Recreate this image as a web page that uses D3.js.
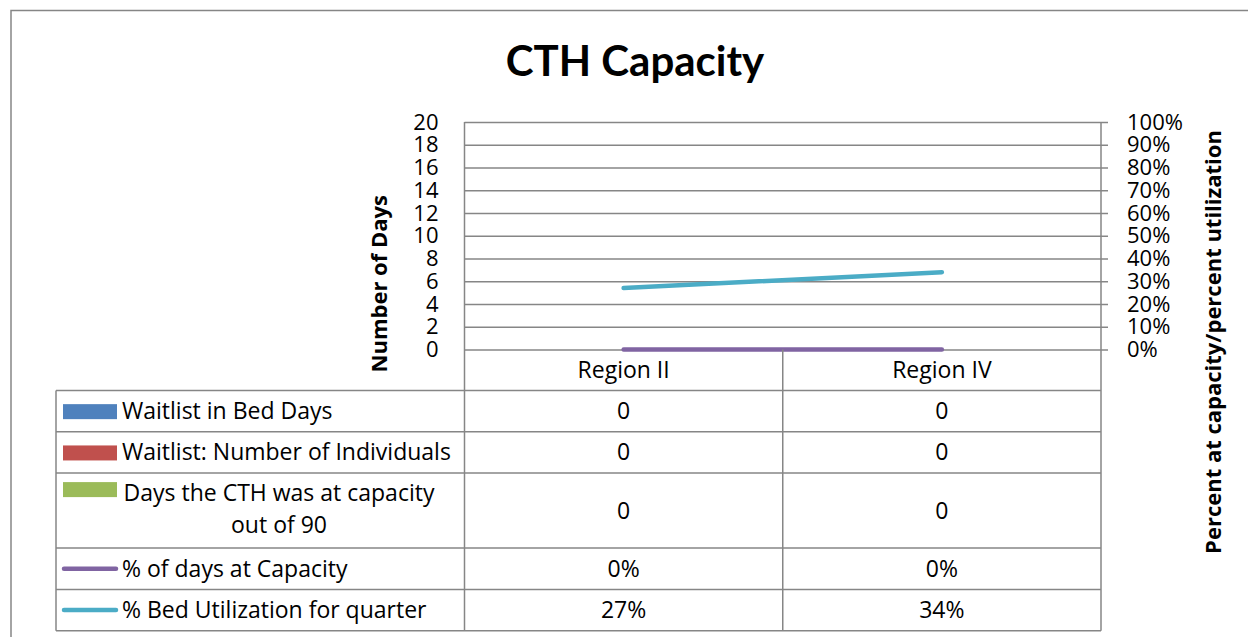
<!DOCTYPE html>
<html>
<head>
<meta charset="utf-8">
<script src="https://cdn.jsdelivr.net/npm/d3@7"></script>
<style>
  html, body { margin: 0; padding: 0; background: #fff; }
  svg { display: block; font-family: 'Open Sans', Lato, sans-serif; }
</style>
</head>
<body>
<div id="chart"></div>
<script>
const categories = ['Region II', 'Region IV']
const waitlistBedDays = [0, 0]
const waitlistIndividuals = [0, 0]
const daysAtCapacity = [0, 0]
const pctDaysAtCapacity = [0, 0]
const pctBedUtilization = [0.27, 0.34]
const leftTicks = [0, 2, 4, 6, 8, 10, 12, 14, 16, 18, 20]
const rightTicks = [0, 0.1, 0.2, 0.3, 0.4, 0.5, 0.6, 0.7, 0.8, 0.9, 1]

const series = [
  { name: ['Waitlist in Bed Days'], values: waitlistBedDays, kind: 'bar', color: '#4F81BD', fmt: d3.format('d') },
  { name: ['Waitlist: Number of Individuals'], values: waitlistIndividuals, kind: 'bar', color: '#C0504D', fmt: d3.format('d') },
  { name: ['Days the CTH was at capacity', 'out of 90'], values: daysAtCapacity, kind: 'bar', color: '#9BBB59', fmt: d3.format('d') },
  { name: ['% of days at Capacity'], values: pctDaysAtCapacity, kind: 'line', color: '#8064A2', fmt: d3.format('.0%') },
  { name: ['% Bed Utilization for quarter'], values: pctBedUtilization, kind: 'line', color: '#4BACC6', fmt: d3.format('.0%') }
]

const W = 1248, H = 637
const grid = '#868686'
const fs = 23
const tickFs = 22
const plot = { left: 464.5, right: 1101, top: 122, bottom: 349.5 }
const tableLeft = 56
const headerH = 41
const rowH1 = 41.3, rowH2 = 75

const svg = d3.select('#chart').append('svg')
  .attr('width', W).attr('height', H)

// outer chart border (top and left visible)
svg.append('path')
  .attr('d', `M11,${H} L11,10.5 L${W},10.5`)
  .attr('fill', 'none').attr('stroke', grid).attr('stroke-width', 1.5)

svg.append('text')
  .attr('x', 635).attr('y', 76)
  .attr('text-anchor', 'middle')
  .attr('font-family', 'Lato')
  .attr('font-weight', 'bold').attr('font-size', 42)
  .text('CTH Capacity')

const x = d3.scaleBand().domain(categories).range([plot.left, plot.right])
const yL = d3.scaleLinear().domain([0, 20]).range([plot.bottom, plot.top])
const yR = d3.scaleLinear().domain([0, 1]).range([plot.bottom, plot.top])

// gridlines
svg.append('g')
  .attr('transform', `translate(${plot.left},0)`)
  .call(d3.axisLeft(yL).tickValues(leftTicks).tickSize(-(plot.right - plot.left)).tickFormat(''))
  .call(ax => ax.select('.domain').remove())
  .call(ax => ax.selectAll('line').attr('stroke', grid).attr('stroke-width', 1.5))

// left tick labels
svg.append('g')
  .attr('transform', `translate(${plot.left},0)`)
  .call(d3.axisLeft(yL).tickValues(leftTicks).tickSize(0).tickPadding(26))
  .call(ax => ax.select('.domain').remove())
  .call(ax => ax.selectAll('text').attr('font-size', tickFs).attr('font-family', 'Open Sans').attr('fill', '#000'))

// right axis with outer ticks
svg.append('g')
  .attr('transform', `translate(${plot.right},0)`)
  .call(d3.axisRight(yR).tickValues(rightTicks).tickSize(7).tickPadding(19).tickFormat(d3.format('.0%')))
  .call(ax => ax.select('.domain').remove())
  .call(ax => ax.selectAll('line').attr('stroke', grid).attr('stroke-width', 1.5))
  .call(ax => ax.selectAll('text').attr('font-size', tickFs).attr('font-family', 'Open Sans').attr('fill', '#000'))

// axis titles
svg.append('text')
  .attr('transform', `translate(387,${(plot.top + plot.bottom) / 2 + 48}) rotate(-90)`)
  .attr('text-anchor', 'middle')
  .attr('font-weight', 'bold').attr('font-size', 22)
  .text('Number of Days')

svg.append('text')
  .attr('transform', `translate(1221,342) rotate(-90)`)
  .attr('text-anchor', 'middle')
  .attr('font-weight', 'bold').attr('font-size', 22)
  .text('Percent at capacity/percent utilization')

// bars (zero-valued)
const barSeries = series.filter(s => s.kind === 'bar')
const inner = d3.scaleBand().domain(d3.range(barSeries.length)).range([0, x.bandwidth()]).paddingInner(0).paddingOuter(1.2)
barSeries.forEach((s, si) => {
  svg.append('g').selectAll('rect')
    .data(s.values)
    .join('rect')
    .attr('x', (d, i) => x(categories[i]) + inner(si))
    .attr('width', inner.bandwidth())
    .attr('y', d => yL(d))
    .attr('height', d => yL(0) - yL(d))
    .attr('fill', s.color)
})

// lines
const line = d3.line()
  .x((d, i) => x(categories[i]) + x.bandwidth() / 2)
  .y(d => yR(d))
series.filter(s => s.kind === 'line').forEach(s => {
  svg.append('path')
    .datum(s.values)
    .attr('d', line)
    .attr('fill', 'none')
    .attr('stroke', s.color)
    .attr('stroke-width', 4.5)
    .attr('stroke-linecap', 'round')
})

// data table
const rowHeights = series.map(s => s.name.length > 1 ? rowH2 : rowH1)
const rowTops = []
let yy = plot.bottom + headerH
rowHeights.forEach(h => { rowTops.push(yy); yy += h })
const tableBottom = yy

const tbl = svg.append('g').attr('stroke', grid).attr('stroke-width', 1.5)
// vertical lines
tbl.append('line').attr('x1', plot.left).attr('x2', plot.left).attr('y1', plot.top).attr('y2', tableBottom)
tbl.append('line').attr('x1', plot.right).attr('x2', plot.right).attr('y1', plot.top).attr('y2', tableBottom)
tbl.append('line').attr('x1', tableLeft).attr('x2', tableLeft).attr('y1', rowTops[0]).attr('y2', tableBottom)
categories.slice(1).forEach(c => {
  tbl.append('line').attr('x1', x(c)).attr('x2', x(c)).attr('y1', plot.bottom).attr('y2', tableBottom)
})
// horizontal lines
rowTops.concat([tableBottom]).forEach(t => {
  tbl.append('line').attr('x1', tableLeft).attr('x2', plot.right).attr('y1', t).attr('y2', t)
})

// category header
svg.append('g').selectAll('text')
  .data(categories)
  .join('text')
  .attr('x', d => x(d) + x.bandwidth() / 2)
  .attr('y', plot.bottom + headerH / 2 + 8)
  .attr('text-anchor', 'middle')
  .attr('font-size', fs)
  .text(d => d)

// rows
series.forEach((s, si) => {
  const top = rowTops[si], h = rowHeights[si]
  const cy = top + h / 2
  const g = svg.append('g')
  if (s.kind === 'bar') {
    g.append('rect')
      .attr('x', 63).attr('y', (s.name.length > 1 ? top + 9 : cy - 7))
      .attr('width', 54).attr('height', 15)
      .attr('fill', s.color)
  } else {
    g.append('line')
      .attr('x1', 64).attr('x2', 116).attr('y1', cy).attr('y2', cy)
      .attr('stroke', s.color).attr('stroke-width', 4.5).attr('stroke-linecap', 'round')
  }
  if (s.name.length === 1) {
    g.append('text').attr('x', 122).attr('y', cy + 8)
      .attr('font-size', fs).text(s.name[0])
  } else {
    const t = g.append('text').attr('font-size', fs).attr('text-anchor', 'middle')
    t.append('tspan').attr('x', 279).attr('y', top + 28).text(s.name[0])
    t.append('tspan').attr('x', 279).attr('y', top + 60).text(s.name[1])
  }
  g.selectAll('.val')
    .data(s.values)
    .join('text')
    .attr('x', (d, i) => x(categories[i]) + x.bandwidth() / 2)
    .attr('y', cy + 8)
    .attr('text-anchor', 'middle')
    .attr('font-size', fs)
    .text(d => s.fmt(d))
})
</script>
</body>
</html>
